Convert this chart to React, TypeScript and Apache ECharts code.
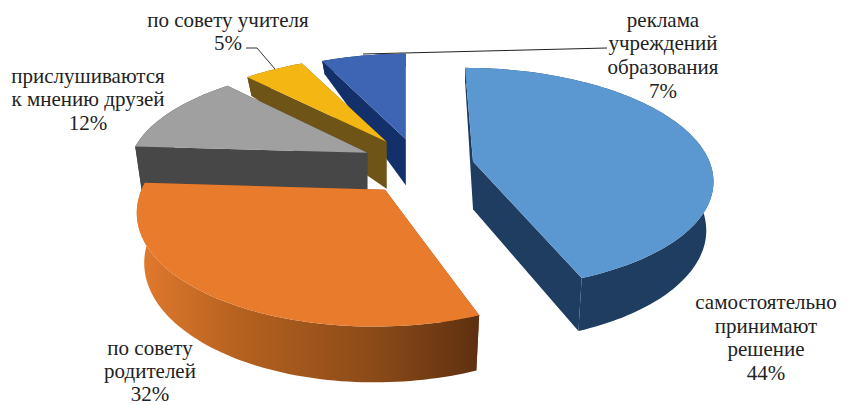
import React, { useEffect, useRef } from "react";
import * as echarts from "echarts";

const categories = [
  ["самостоятельно", "принимают", "решение"],
  ["по совету", "родителей"],
  ["прислушиваются", "к мнению друзей"],
  ["по совету учителя"],
  ["реклама", "учреждений", "образования"],
];
const values = [44, 32, 12, 5, 7];
const topColors = ["#5B98D2", "#E97B2D", "#A0A0A0", "#F4B612", "#3D65B4"];
const sideColors = ["#1F3D60", "#8A4A1C", "#474747", "#6E5416", "#14306B"];
const drawOrder = [4, 3, 2, 1, 0];
const labelCenters = [[766, 290], [150, 336], [88, 64], [228, 8], [663, 8]];
const labelLineHeights = [23.7, 23, 23.6, 23.6, 23.6];

// projection fit per slice: x scale, y scale, shear, apex y nudge
const fitX = [0.985, 1.015, 0.98, 0.94, 0.93];
const fitY = [1.04, 1.12, 0.985, 0.95, 0.95];
const fitShear = [8, -11, -7, 0, 0];
const fitApexY = [1.5, 0, 0, 1, 3];

const CX = 418, CY = 165.6, EX = 56, EY = 30;
const A = 240, B = 103.6, P = 0.151;
const total = values.reduce((a, b) => a + b, 0);

function depthAt(y: number) {
  const pts = [[60, 13], [78, 19], [142, 47], [277, 53], [400, 60]];
  if (y <= pts[0][0]) return pts[0][1];
  for (let i = 1; i < pts.length; i++) {
    if (y <= pts[i][0]) {
      const t = (y - pts[i - 1][0]) / (pts[i][0] - pts[i - 1][0]);
      return pts[i - 1][1] + t * (pts[i][1] - pts[i - 1][1]);
    }
  }
  return pts[pts.length - 1][1];
}

function slice(index: number) {
  let before = 0;
  for (let i = 0; i < index; i++) before += values[i];
  const a0 = (before / total) * Math.PI * 2;
  const a1 = ((before + values[index]) / total) * Math.PI * 2;
  const mid = (a0 + a1) / 2;
  const ax = CX + EX * Math.sin(mid);
  const ay = CY - EY * Math.cos(mid) + fitApexY[index];
  const map = (a: number) => {
    const u = Math.sin(a), v = Math.cos(a), w = 1 + P * v;
    return [ax + (fitX[index] * A * u) / w - fitShear[index] * v, ay - (fitY[index] * B * v) / w];
  };
  const down = (p: number[]) => [p[0] - 0.03 * (p[0] - ax), p[1] + depthAt(p[1])];
  const n = Math.max(4, Math.ceil((a1 - a0) / 0.025));
  const arc: number[][] = [];
  for (let i = 0; i <= n; i++) arc.push(map(a0 + ((a1 - a0) * i) / n));
  const apex = [ax, ay];
  const apexB = down(apex);
  return { apex, apexB, arc, arcB: arc.map(down) };
}

function renderItem(params: any) {
  const idx = drawOrder[params.dataIndex];
  const g = slice(idx);
  const first = g.arc[0], last = g.arc[g.arc.length - 1];
  const firstB = g.arcB[0], lastB = g.arcB[g.arcB.length - 1];
  const rimFill: any = idx === 1
    ? {
        type: "linear", x: 0, y: 0, x2: 1, y2: 0,
        colorStops: [
          { offset: 0, color: "#E27A2E" },
          { offset: 0.3, color: "#B5611F" },
          { offset: 0.7, color: "#8A4A18" },
          { offset: 1, color: "#5E3010" },
        ],
      }
    : sideColors[idx];
  const side = sideColors[idx];
  const poly = (points: number[][], fill: any) => ({
    type: "polygon", shape: { points }, style: { fill, stroke: null }, silent: true,
  });
  return {
    type: "group",
    children: [
      poly([g.apex, first, firstB, g.apexB], side),
      poly([g.apex, last, lastB, g.apexB], side),
      poly([...g.arc, ...g.arcB.slice().reverse()], rimFill),
      poly([g.apex, ...g.arc], topColors[idx]),
    ],
  };
}

const leader5 = [[246, 48], [257, 48], [275, 69]];
const leader7 = [[363, 54], [607, 48]];

export default function App() {
  const ref = useRef<HTMLDivElement>(null);
  useEffect(() => {
    document.body.style.margin = "0";
    const chart = echarts.init(ref.current!, null, { renderer: "svg" });
    chart.setOption({
      animation: false,
      backgroundColor: "#FFFFFF",
      series: [{
        type: "custom",
        coordinateSystem: "none",
        renderItem,
        data: drawOrder.map((i) => [values[i]]),
      }],
      graphic: [
        ...categories.map((lines, i) => ({
          type: "text",
          x: labelCenters[i][0],
          y: labelCenters[i][1],
          z: 10,
          style: {
            text: [...lines, values[i] + "%"].join("\n"),
            font: '21px "Liberation Serif"',
            lineHeight: labelLineHeights[i],
            fill: "#222222",
            align: "center",
            verticalAlign: "top",
          },
        })),
        { type: "polyline", z: 10, shape: { points: leader5 }, style: { stroke: "#333", lineWidth: 1, fill: null } },
        { type: "polyline", z: 10, shape: { points: leader7 }, style: { stroke: "#222", lineWidth: 1, fill: null } },
      ],
    });
    return () => chart.dispose();
  }, []);
  return <div ref={ref} style={{ width: 846, height: 405 }} />;
}
